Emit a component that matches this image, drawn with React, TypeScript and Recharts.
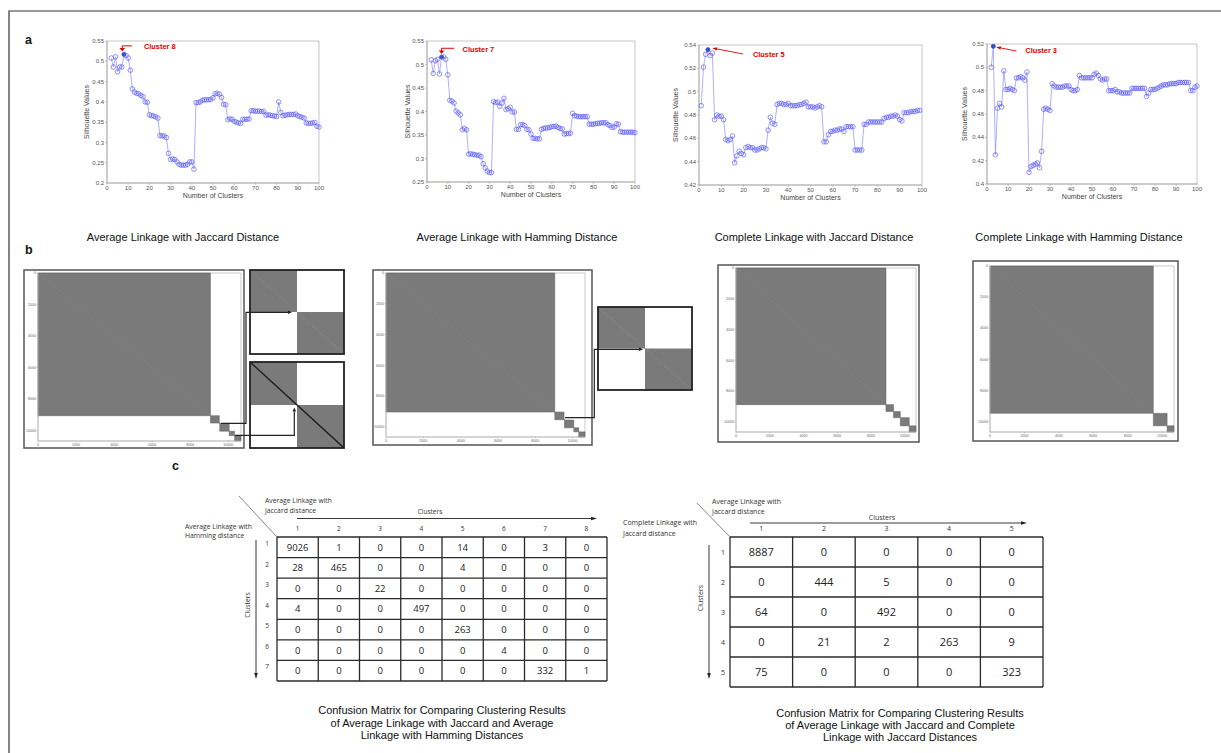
import React from 'react';
import { LineChart, Line, XAxis, YAxis, ReferenceArea, ReferenceDot } from 'recharts';

// ---------- DATA ----------
const K_FROM_2 = Array.from({ length: 99 }, (_, i) => i + 2);
const K_FROM_1 = Array.from({ length: 99 }, (_, i) => i + 1);

const silAvgJaccard = [
  0.508, 0.486, 0.511, 0.474, 0.486, 0.486, 0.517, 0.514, 0.508, 0.478,
  0.432, 0.424, 0.421, 0.420, 0.416, 0.413, 0.400, 0.399, 0.368, 0.366,
  0.365, 0.363, 0.360, 0.317, 0.316, 0.316, 0.312, 0.273, 0.258, 0.259,
  0.258, 0.252, 0.246, 0.244, 0.244, 0.244, 0.246, 0.252, 0.252, 0.234,
  0.398, 0.398, 0.400, 0.404, 0.405, 0.405, 0.405, 0.406, 0.410, 0.420,
  0.421, 0.419, 0.411, 0.394, 0.393, 0.356, 0.358, 0.357, 0.352, 0.350,
  0.348, 0.347, 0.357, 0.357, 0.357, 0.358, 0.378, 0.378, 0.377, 0.377,
  0.377, 0.376, 0.377, 0.367, 0.368, 0.367, 0.366, 0.365, 0.364, 0.400,
  0.374, 0.366, 0.367, 0.368, 0.369, 0.369, 0.369, 0.370, 0.366, 0.364,
  0.362, 0.360, 0.348, 0.347, 0.347, 0.348, 0.349, 0.340, 0.338,
];
const silAvgHamming = [
  0.510, 0.481, 0.508, 0.511, 0.480, 0.516, 0.516, 0.511, 0.478, 0.424,
  0.422, 0.418, 0.401, 0.397, 0.393, 0.361, 0.364, 0.361, 0.309, 0.310,
  0.309, 0.308, 0.307, 0.307, 0.304, 0.289, 0.280, 0.273, 0.270, 0.270,
  0.421, 0.419, 0.420, 0.411, 0.418, 0.428, 0.404, 0.406, 0.409, 0.399,
  0.399, 0.362, 0.362, 0.372, 0.372, 0.370, 0.362, 0.361, 0.352, 0.343,
  0.343, 0.342, 0.342, 0.362, 0.364, 0.365, 0.365, 0.366, 0.368, 0.368,
  0.369, 0.366, 0.364, 0.363, 0.352, 0.353, 0.353, 0.354, 0.396, 0.391,
  0.390, 0.389, 0.389, 0.389, 0.389, 0.389, 0.373, 0.373, 0.373, 0.374,
  0.375, 0.375, 0.376, 0.376, 0.376, 0.372, 0.370, 0.366, 0.367, 0.374,
  0.373, 0.357, 0.356, 0.356, 0.356, 0.356, 0.356, 0.356, 0.355,
];
const silCompJaccard = [
  0.488, 0.521, 0.532, 0.536, 0.531, 0.533, 0.476, 0.480, 0.479, 0.479,
  0.476, 0.459, 0.458, 0.459, 0.462, 0.439, 0.445, 0.449, 0.447, 0.446,
  0.452, 0.453, 0.452, 0.452, 0.450, 0.450, 0.451, 0.452, 0.452, 0.451,
  0.467, 0.478, 0.473, 0.472, 0.489, 0.490, 0.490, 0.489, 0.489, 0.490,
  0.488, 0.488, 0.488, 0.488, 0.489, 0.489, 0.490, 0.491, 0.487, 0.487,
  0.487, 0.486, 0.487, 0.488, 0.487, 0.457, 0.457, 0.463, 0.466, 0.466,
  0.467, 0.467, 0.468, 0.468, 0.466, 0.470, 0.470, 0.470, 0.470, 0.450,
  0.450, 0.450, 0.450, 0.472, 0.472, 0.474, 0.474, 0.474, 0.474, 0.474,
  0.474, 0.474, 0.477, 0.478, 0.478, 0.479, 0.479, 0.480, 0.479, 0.476,
  0.475, 0.482, 0.482, 0.482, 0.483, 0.483, 0.483, 0.484, 0.484,
];
const silCompHamming = [
  0.500, 0.518, 0.425, 0.465, 0.469, 0.466, 0.497, 0.481, 0.481, 0.482,
  0.481, 0.480, 0.491, 0.491, 0.492, 0.491, 0.489, 0.496, 0.410, 0.415,
  0.416, 0.417, 0.418, 0.414, 0.428, 0.464, 0.465, 0.464, 0.463, 0.486,
  0.484, 0.483, 0.483, 0.483, 0.483, 0.484, 0.484, 0.484, 0.481, 0.480,
  0.480, 0.481, 0.493, 0.491, 0.491, 0.491, 0.491, 0.491, 0.491, 0.494,
  0.495, 0.493, 0.490, 0.489, 0.490, 0.490, 0.480, 0.480, 0.480, 0.481,
  0.479, 0.479, 0.478, 0.478, 0.478, 0.478, 0.478, 0.482, 0.482, 0.482,
  0.482, 0.482, 0.482, 0.482, 0.475, 0.478, 0.481, 0.481, 0.481, 0.482,
  0.483, 0.484, 0.485, 0.485, 0.485, 0.486, 0.486, 0.486, 0.486, 0.487,
  0.487, 0.487, 0.487, 0.487, 0.487, 0.480, 0.480, 0.483, 0.484,
];

const X_TICKS = [0, 10, 20, 30, 40, 50, 60, 70, 80, 90, 100];
const Y_TICKS_1 = [0.2, 0.25, 0.3, 0.35, 0.4, 0.45, 0.5, 0.55];
const Y_TICKS_2 = [0.25, 0.3, 0.35, 0.4, 0.45, 0.5, 0.55];
const Y_TICKS_3 = [0.42, 0.44, 0.46, 0.48, 0.5, 0.52, 0.54];
const Y_TICKS_4 = [0.4, 0.42, 0.44, 0.46, 0.48, 0.5, 0.52];

const panelTitles = [
  'Average Linkage with Jaccard Distance',
  'Average Linkage with Hamming Distance',
  'Complete Linkage with Jaccard Distance',
  'Complete Linkage with Hamming Distance',
];

// cluster sizes for the similarity-matrix views (panel b)
const blocksAvgJaccard = [9058, 466, 22, 497, 281, 4, 335, 1];
const blocksAvgHamming = [9044, 497, 22, 501, 263, 4, 333];
const blocksCompJaccard = [8887, 450, 400, 530, 400];
const blocksCompHamming = [9480, 800, 400];
const insetBlocks = [1, 1];
const MATRIX_TICKS = [0, 2000, 4000, 6000, 8000, 10000];

// confusion matrices (panel c)
const cm1Cols = ['1', '2', '3', '4', '5', '6', '7', '8'];
const cm1Rows = ['1', '2', '3', '4', '5', '6', '7'];
const cm1Values = [
  [9026, 1, 0, 0, 14, 0, 3, 0],
  [28, 465, 0, 0, 4, 0, 0, 0],
  [0, 0, 22, 0, 0, 0, 0, 0],
  [4, 0, 0, 497, 0, 0, 0, 0],
  [0, 0, 0, 0, 263, 0, 0, 0],
  [0, 0, 0, 0, 0, 4, 0, 0],
  [0, 0, 0, 0, 0, 0, 332, 1],
];
const cm2Cols = ['1', '2', '3', '4', '5'];
const cm2Rows = ['1', '2', '3', '4', '5'];
const cm2Values = [
  [8887, 0, 0, 0, 0],
  [0, 444, 5, 0, 0],
  [64, 0, 492, 0, 0],
  [0, 21, 2, 263, 9],
  [75, 0, 0, 0, 323],
];

// ---------- STYLE ----------
const ARIAL = '"Liberation Sans", Arial, sans-serif';
const CAL = '"Open Sans", "Noto Sans", sans-serif';
const fmt = (v: number) => String(Number(v.toFixed(2)));

function head(tx: number, ty: number, fx: number, fy: number, len = 5, hw = 2.3, color = '#e00000') {
  const dx = tx - fx, dy = ty - fy;
  const d = Math.hypot(dx, dy) || 1;
  const ux = dx / d, uy = dy / d;
  const bx = tx - ux * len, by = ty - uy * len;
  const px = -uy * hw, py = ux * hw;
  return <polygon points={`${tx},${ty} ${bx + px},${by + py} ${bx - px},${by - py}`} fill={color} />;
}

type Ann = { mode: 'down' | 'diag'; text: string; a: number[]; tx: number; ty: number };

function annShape(ann: Ann) {
  return (p: any) => {
    const cx = p.cx, cy = p.cy;
    const a = ann.a;
    if (ann.mode === 'down') {
      // a = [lineRight, lineLeft, lineY, tipY]
      return (
        <g>
          <line x1={cx + a[0]} y1={cy + a[2]} x2={cx + a[1]} y2={cy + a[2]} stroke="#e00000" strokeWidth={1} />
          <line x1={cx + a[1]} y1={cy + a[2]} x2={cx + a[1]} y2={cy + a[3] - 2} stroke="#e00000" strokeWidth={1} />
          {head(cx + a[1], cy + a[3], cx + a[1], cy + a[2], 3.5, 2.8)}
          <text x={cx + ann.tx} y={cy + ann.ty} fontSize={7.4} fontWeight="bold" fill="#e00000" fontFamily={ARIAL}>{ann.text}</text>
        </g>
      );
    }
    // a = [tailX, tailY, tipX, tipY]
    return (
      <g>
        <line x1={cx + a[0]} y1={cy + a[1]} x2={cx + a[2]} y2={cy + a[3]} stroke="#e00000" strokeWidth={0.9} />
        {head(cx + a[2], cy + a[3], cx + a[0], cy + a[1], 4, 1.8)}
        <text x={cx + ann.tx} y={cy + ann.ty} fontSize={7.4} fontWeight="bold" fill="#e00000" fontFamily={ARIAL}>{ann.text}</text>
      </g>
    );
  };
}

type Plot = { x: number; y: number; w: number; h: number };

function SilChart({ plot, ks, vals, yDomain, yTicks, ann }: { plot: Plot; ks: number[]; vals: number[]; yDomain: number[]; yTicks: number[]; ann: Ann }) {
  const data = ks.map((k, i) => ({ k, v: vals[i] }));
  const bestIdx = vals.indexOf(Math.max(...vals));
  const best = data[bestIdx];
  const ML = 34, MT = 6, MR = 6, XH = 20;
  const W = plot.w + ML + MR, H = plot.h + MT + XH;
  return (
    <div style={{ position: 'absolute', left: plot.x - ML, top: plot.y - MT, width: W, height: H }}>
      <LineChart width={W} height={H} data={data} margin={{ top: MT, right: MR, bottom: 0, left: 0 }}>
        <XAxis dataKey="k" type="number" domain={[0, 100]} ticks={X_TICKS} interval={0} height={XH}
          tick={{ fontSize: 6, fill: '#555', fontFamily: ARIAL }} tickSize={2} tickMargin={1}
          tickLine={{ stroke: '#999', strokeWidth: 0.5 }} axisLine={{ stroke: '#999', strokeWidth: 0.6 }} />
        <YAxis type="number" domain={yDomain} ticks={yTicks} interval={0} width={ML} tickFormatter={fmt}
          tick={{ fontSize: 6, fill: '#555', fontFamily: ARIAL }} tickSize={2} tickMargin={1} allowDataOverflow
          tickLine={{ stroke: '#999', strokeWidth: 0.5 }} axisLine={{ stroke: '#999', strokeWidth: 0.6 }} />
        <ReferenceArea x1={0} x2={100} y1={yDomain[0]} y2={yDomain[1]} fill="none" fillOpacity={0} stroke="#a0a0a0" strokeWidth={0.6} />
        <Line dataKey="v" type="linear" stroke="#8d8dff" strokeWidth={0.7} isAnimationActive={false} activeDot={false}
          dot={(p: any) => {
            const isBest = p.index === bestIdx;
            return (
              <circle key={`d${p.index}`} cx={p.cx} cy={p.cy} r={isBest ? 2.1 : 2.3}
                fill={isBest ? '#2f4fc4' : 'none'} stroke={isBest ? '#2f4fc4' : '#5656f5'} strokeWidth={0.65} />
            );
          }} />
        <ReferenceDot x={best.k} y={best.v} r={0} ifOverflow="visible" shape={annShape(ann)} />
      </LineChart>
    </div>
  );
}

type Frame = { x: number; y: number; w: number; h: number };
type PArea = { x1: number; y1: number; x2: number; y2: number };

function BlockChart({ frame, plot, sizes }: { frame: Frame; plot: PArea; sizes: number[] }) {
  const total = sizes.reduce((a, b) => a + b, 0);
  const starts: number[] = [];
  let acc = 0;
  sizes.forEach((s) => { starts.push(acc); acc += s; });
  const diag = [{ x: 0, y: 0 }, { x: total, y: total }];
  const yW = plot.x1 - frame.x;
  const mt = plot.y1 - frame.y;
  const mr = frame.x + frame.w - plot.x2;
  const xH = frame.y + frame.h - plot.y2;
  return (
    <div style={{ position: 'absolute', left: frame.x, top: frame.y, width: frame.w, height: frame.h }}>
      <LineChart width={frame.w} height={frame.h} data={diag} margin={{ top: mt, right: mr, bottom: 0, left: 0 }}>
        <XAxis dataKey="x" type="number" domain={[0, total]} ticks={MATRIX_TICKS} interval={0} height={xH} allowDataOverflow
          tick={{ fontSize: 3.6, fill: '#666', fontFamily: ARIAL }} tickSize={1.5} tickMargin={0.5}
          tickLine={{ stroke: '#aaa', strokeWidth: 0.5 }} axisLine={{ stroke: '#bbb', strokeWidth: 0.8 }} />
        <YAxis dataKey="y" type="number" reversed domain={[0, total]} ticks={MATRIX_TICKS} interval={0} width={yW} allowDataOverflow
          tick={{ fontSize: 3.6, fill: '#666', fontFamily: ARIAL }} tickSize={1.5} tickMargin={0.5}
          tickLine={{ stroke: '#aaa', strokeWidth: 0.5 }} axisLine={{ stroke: '#bbb', strokeWidth: 0.8 }} />
        <ReferenceArea x1={0} x2={total} y1={0} y2={total} fill="none" fillOpacity={0} stroke="#bbb" strokeWidth={0.8} />
        {sizes.map((s, i) => (
          <ReferenceArea key={i} x1={starts[i]} x2={starts[i] + s} y1={starts[i]} y2={starts[i] + s}
            fill="#7a7a7a" fillOpacity={1} stroke="#5e5e5e" strokeWidth={0.5} />
        ))}
        <Line dataKey="y" stroke="#868686" strokeWidth={0.4} dot={false} activeDot={false} isAnimationActive={false} />
      </LineChart>
    </div>
  );
}

function InsetChart({ frame, bold }: { frame: Frame; bold: boolean }) {
  const total = insetBlocks.reduce((a, b) => a + b, 0);
  const starts: number[] = [];
  let acc = 0;
  insetBlocks.forEach((s) => { starts.push(acc); acc += s; });
  const diag = [{ x: 0, y: 0 }, { x: total, y: total }];
  return (
    <div style={{ position: 'absolute', left: frame.x, top: frame.y, width: frame.w, height: frame.h }}>
      <LineChart width={frame.w} height={frame.h} data={diag} margin={{ top: 0, right: 0, bottom: 0, left: 0 }}>
        <XAxis dataKey="x" type="number" domain={[0, total]} hide allowDataOverflow />
        <YAxis dataKey="y" type="number" reversed domain={[0, total]} hide allowDataOverflow />
        {insetBlocks.map((s, i) => (
          <ReferenceArea key={i} x1={starts[i]} x2={starts[i] + s} y1={starts[i]} y2={starts[i] + s}
            fill="#7a7a7a" fillOpacity={1} stroke="none" />
        ))}
        <Line dataKey="y" stroke={bold ? '#1a1a1a' : '#8a8a8a'} strokeWidth={bold ? 1.3 : 0.6} dot={false} activeDot={false} isAnimationActive={false} />
      </LineChart>
    </div>
  );
}

function Matrix({ x0, y0, colW, rowH, cols, rows, values, numSize, labSize }:
  { x0: number; y0: number; colW: number; rowH: number; cols: string[]; rows: string[]; values: number[][]; numSize: number; labSize: number }) {
  const W = colW * cols.length, H = rowH * rows.length;
  const lines: React.ReactNode[] = [];
  for (let i = 0; i <= rows.length; i++) lines.push(<line key={`r${i}`} x1={x0} x2={x0 + W} y1={y0 + i * rowH} y2={y0 + i * rowH} stroke="#2a2a2a" strokeWidth={1.3} />);
  for (let j = 0; j <= cols.length; j++) lines.push(<line key={`c${j}`} x1={x0 + j * colW} x2={x0 + j * colW} y1={y0} y2={y0 + H} stroke="#2a2a2a" strokeWidth={1.3} />);
  return (
    <g>
      {lines}
      {values.map((r, i) => r.map((v, j) => (
        <text key={`v${i}-${j}`} x={x0 + (j + 0.5) * colW} y={y0 + (i + 0.5) * rowH + numSize * 0.36} textAnchor="middle"
          fontSize={numSize} fill="#222" fontFamily={CAL}>{v}</text>
      )))}
      {cols.map((c, j) => (
        <text key={`h${j}`} x={x0 + (j + 0.5) * colW} y={y0 - 6} textAnchor="middle" fontSize={labSize} fill="#333" fontFamily={CAL}>{c}</text>
      ))}
    </g>
  );
}

const C1P: Plot = { x: 107, y: 41, w: 212, h: 142 };
const C2P: Plot = { x: 427, y: 41, w: 208, h: 141 };
const C3P: Plot = { x: 699, y: 45, w: 223, h: 140 };
const C4P: Plot = { x: 987, y: 44, w: 210, h: 140 };

const B1F: Frame = { x: 24, y: 270, w: 220, h: 178 };
const B2F: Frame = { x: 373, y: 270, w: 219, h: 175 };
const B3F: Frame = { x: 718, y: 265, w: 201, h: 177 };
const B4F: Frame = { x: 973, y: 261, w: 205, h: 180 };
const IN1: Frame = { x: 250, y: 270, w: 94, h: 84 };
const IN2: Frame = { x: 250, y: 362, w: 94, h: 86 };
const IN3: Frame = { x: 598, y: 307, w: 94, h: 83 };

export default function App() {
  const plots = [C1P, C2P, C3P, C4P];
  const ylabX = [86, 407, 675, 964];
  const titleX = [183, 517, 814, 1079];
  return (
    <div style={{ position: 'absolute', left: 0, top: 0, width: 1221, height: 753, background: '#fff', overflow: 'hidden', fontFamily: ARIAL }}>
      <SilChart plot={C1P} ks={K_FROM_2} vals={silAvgJaccard} yDomain={[0.2, 0.55]} yTicks={Y_TICKS_1}
        ann={{ mode: 'down', text: 'Cluster 8', a: [8, -1.7, -8.5, -3], tx: 20, ty: -5 }} />
      <SilChart plot={C2P} ks={K_FROM_2} vals={silAvgHamming} yDomain={[0.25, 0.55]} yTicks={Y_TICKS_2}
        ann={{ mode: 'down', text: 'Cluster 7', a: [12.5, 0, -8.7, -3], tx: 21, ty: -4.5 }} />
      <SilChart plot={C3P} ks={K_FROM_1} vals={silCompJaccard} yDomain={[0.42, 0.54]} yTicks={Y_TICKS_3}
        ann={{ mode: 'diag', text: 'Cluster 5', a: [35, 4.3, 5, -1.5], tx: 45, ty: 7 }} />
      <SilChart plot={C4P} ks={K_FROM_2} vals={silCompHamming} yDomain={[0.4, 0.52]} yTicks={Y_TICKS_4}
        ann={{ mode: 'diag', text: 'Cluster 3', a: [23, 4.7, 3.5, 0.8], tx: 32, ty: 6.7 }} />

      <BlockChart frame={B1F} plot={{ x1: 38, y1: 273, x2: 241, y2: 441 }} sizes={blocksAvgJaccard} />
      <BlockChart frame={B2F} plot={{ x1: 386, y1: 273, x2: 585, y2: 437 }} sizes={blocksAvgHamming} />
      <BlockChart frame={B3F} plot={{ x1: 736, y1: 268, x2: 916, y2: 432 }} sizes={blocksCompJaccard} />
      <BlockChart frame={B4F} plot={{ x1: 990, y1: 266, x2: 1174, y2: 432 }} sizes={blocksCompHamming} />
      <InsetChart frame={IN1} bold={false} />
      <InsetChart frame={IN2} bold={true} />
      <InsetChart frame={IN3} bold={false} />

      <svg width={1221} height={753} style={{ position: 'absolute', left: 0, top: 0, pointerEvents: 'none' }}>
        <path d="M9,753 L9,11 L1221,11" fill="none" stroke="#333" strokeWidth={1.2} />
        <text x={25} y={44} fontSize={12.5} fontWeight="bold" fill="#111" fontFamily={ARIAL}>a</text>
        <text x={25} y={254} fontSize={12.5} fontWeight="bold" fill="#111" fontFamily={ARIAL}>b</text>
        <text x={172} y={470} fontSize={12.5} fontWeight="bold" fill="#111" fontFamily={ARIAL}>c</text>

        {plots.map((p, i) => (
          <g key={`al${i}`}>
            <text x={p.x + p.w / 2} y={p.y + p.h + 15} textAnchor="middle" fontSize={7} fill="#444" fontFamily={ARIAL}>Number of Clusters</text>
            <text transform={`translate(${ylabX[i] + 2.5},${p.y + p.h / 2}) rotate(-90)`} textAnchor="middle" fontSize={7} fill="#444" fontFamily={ARIAL}>Silhouette Values</text>
            <text x={titleX[i]} y={241} textAnchor="middle" fontSize={11} fill="#111" fontFamily={ARIAL}>{panelTitles[i]}</text>
          </g>
        ))}

        {[B1F, B2F, B3F, B4F].map((f, i) => (
          <rect key={`bf${i}`} x={f.x} y={f.y} width={f.w} height={f.h} fill="none" stroke="#555" strokeWidth={1.5} />
        ))}
        {[IN1, IN2, IN3].map((f, i) => (
          <rect key={`if${i}`} x={f.x} y={f.y} width={f.w} height={f.h} fill="none" stroke="#222" strokeWidth={1.8} />
        ))}
        <polyline points="221,423.3 246,423.3 246,312.3 288,312.3" fill="none" stroke="#222" strokeWidth={1.2} />
        {head(292, 312.3, 246, 312.3, 4, 1.8, '#222')}
        <polyline points="235,435.3 294.3,435.3 294.3,411.5" fill="none" stroke="#222" strokeWidth={1.2} />
        {head(294.3, 407.5, 294.3, 435.3, 4, 1.8, '#222')}
        <polyline points="565,417.7 594.3,417.7 594.3,349.3 639,349.3" fill="none" stroke="#222" strokeWidth={1.2} />
        {head(643, 349.3, 594.3, 349.3, 4, 1.8, '#222')}

        {/* Confusion matrix 1 */}
        <Matrix x0={277} y0={537} colW={41.25} rowH={20.57} cols={cm1Cols} rows={cm1Rows} values={cm1Values} numSize={9.5} labSize={6.5} />
        <text x={265} y={503} fontSize={6.8} fill="#333" fontFamily={CAL}>Average Linkage with</text>
        <text x={265} y={512.5} fontSize={6.8} fill="#333" fontFamily={CAL}>Jaccard distance</text>
        <text x={185} y={528.5} fontSize={6.8} fill="#333" fontFamily={CAL}>Average Linkage with</text>
        <text x={185} y={537.5} fontSize={6.8} fill="#333" fontFamily={CAL}>Hamming distance</text>
        <line x1={239} y1={496} x2={277} y2={537} stroke="#555" strokeWidth={0.7} />
        <text x={430} y={513.5} textAnchor="middle" fontSize={6.5} fill="#333" fontFamily={CAL}>Clusters</text>
        <line x1={297} y1={518.5} x2={591} y2={518.5} stroke="#222" strokeWidth={0.9} />
        {head(597, 518.5, 297, 518.5, 6, 1.8, '#222')}
        {cm1Rows.map((r, i) => (
          <text key={`rn1${i}`} x={267} y={537 + i * 20.57 + 9} textAnchor="middle" fontSize={6.5} fill="#333" fontFamily={CAL}>{r}</text>
        ))}
        <text transform="translate(249.5,605) rotate(-90)" textAnchor="middle" fontSize={6.8} fill="#333" fontFamily={CAL}>Clusters</text>
        <line x1={256} y1={540} x2={256} y2={673} stroke="#222" strokeWidth={0.9} />
        {head(256, 679, 256, 540, 6, 1.8, '#222')}
        <text x={442} y={714} textAnchor="middle" fontSize={11} fill="#111" fontFamily={ARIAL}>Confusion Matrix for Comparing Clustering Results</text>
        <text x={442} y={726.5} textAnchor="middle" fontSize={11} fill="#111" fontFamily={ARIAL}>of Average Linkage with Jaccard and Average</text>
        <text x={442} y={739} textAnchor="middle" fontSize={11} fill="#111" fontFamily={ARIAL}>Linkage with Hamming Distances</text>

        {/* Confusion matrix 2 */}
        <Matrix x0={730} y0={537} colW={62.6} rowH={30} cols={cm2Cols} rows={cm2Rows} values={cm2Values} numSize={11} labSize={7} />
        <text x={712} y={503.5} fontSize={7} fill="#333" fontFamily={CAL}>Average Linkage with</text>
        <text x={712} y={513.5} fontSize={7} fill="#333" fontFamily={CAL}>Jaccard distance</text>
        <text x={623} y={524.5} fontSize={7} fill="#333" fontFamily={CAL}>Complete Linkage with</text>
        <text x={623} y={535.5} fontSize={7} fill="#333" fontFamily={CAL}>Jaccard distance</text>
        <line x1={697} y1={503} x2={730} y2={537} stroke="#555" strokeWidth={0.7} />
        <text x={882} y={519.5} textAnchor="middle" fontSize={7} fill="#333" fontFamily={CAL}>Clusters</text>
        <line x1={750} y1={523} x2={1021} y2={523} stroke="#222" strokeWidth={0.9} />
        {head(1027, 523, 750, 523, 6, 1.8, '#222')}
        {cm2Rows.map((r, i) => (
          <text key={`rn2${i}`} x={723} y={537 + (i + 0.5) * 30 + 2.5} textAnchor="middle" fontSize={7} fill="#333" fontFamily={CAL}>{r}</text>
        ))}
        <text transform="translate(702.5,598) rotate(-90)" textAnchor="middle" fontSize={7} fill="#333" fontFamily={CAL}>Clusters</text>
        <line x1={709} y1={545} x2={709} y2={673} stroke="#222" strokeWidth={0.9} />
        {head(709, 679, 709, 545, 6, 1.8, '#222')}
        <text x={900} y={716.5} textAnchor="middle" fontSize={11} fill="#111" fontFamily={ARIAL}>Confusion Matrix for Comparing Clustering Results</text>
        <text x={900} y={728.5} textAnchor="middle" fontSize={11} fill="#111" fontFamily={ARIAL}>of Average Linkage with Jaccard and Complete</text>
        <text x={900} y={740.5} textAnchor="middle" fontSize={11} fill="#111" fontFamily={ARIAL}>Linkage with Jaccard Distances</text>
      </svg>
    </div>
  );
}
